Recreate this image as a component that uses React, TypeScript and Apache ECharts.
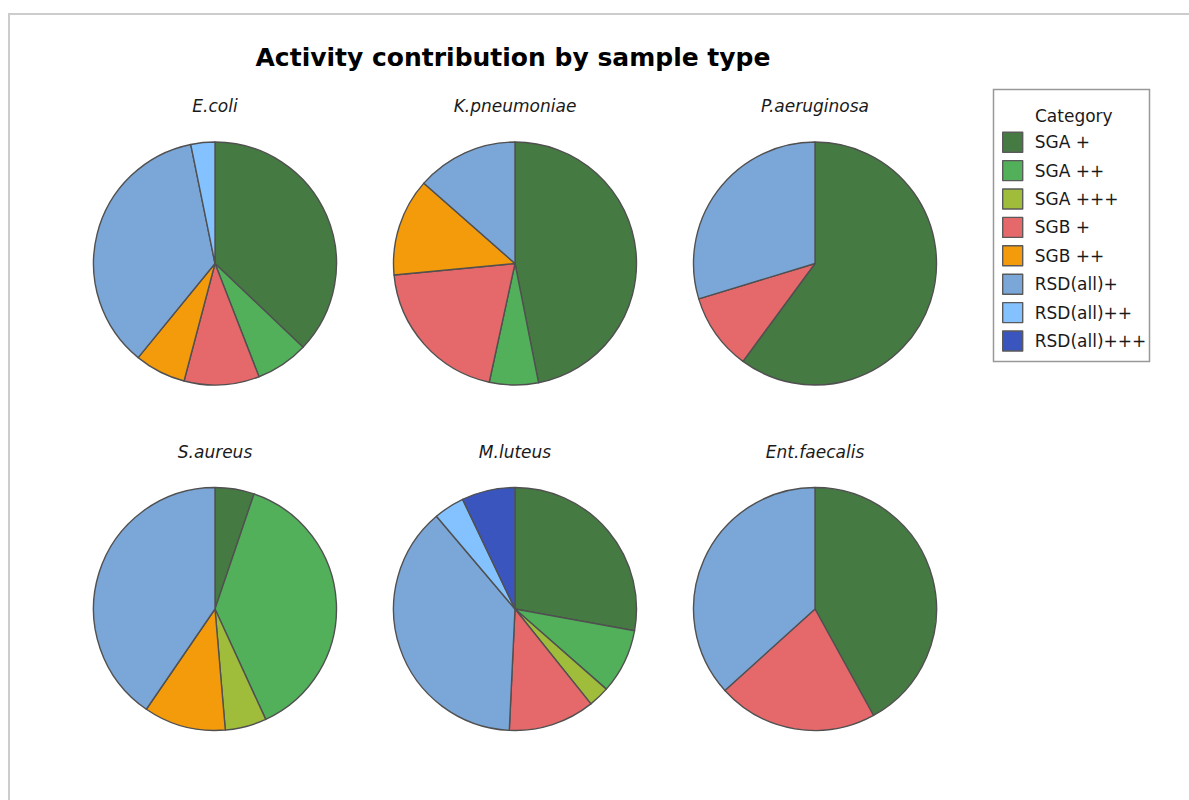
import React, { useEffect, useRef } from "react";
import * as echarts from "echarts";

const chartTitle = "Activity contribution by sample type";
const legendTitle = "Category";
const categories = ["SGA +", "SGA ++", "SGA +++", "SGB +", "SGB ++", "RSD(all)+", "RSD(all)++", "RSD(all)+++"];
const categoryColors = ["#457B43", "#52B05B", "#A0BC3B", "#E5686A", "#F39B0B", "#7BA6D8", "#84C2FF", "#3B55BF"];
const samples = ["E.coli", "K.pneumoniae", "P.aeruginosa", "S.aureus", "M.luteus", "Ent.faecalis"];

// values per category (order = categories), percent of activity
const eColi = [37.1, 7.0, 0, 10.0, 6.8, 35.9, 3.2, 0];
const kPneumoniae = [46.9, 6.5, 0, 20.1, 13.0, 13.5, 0, 0];
const pAeruginosa = [60.1, 0, 0, 10.2, 0, 29.7, 0, 0];
const sAureus = [5.2, 37.9, 5.5, 0, 10.9, 40.4, 0, 0];
const mLuteus = [27.9, 8.6, 2.8, 11.5, 0, 38.1, 4.1, 7.1];
const entFaecalis = [42.0, 0, 0, 21.3, 0, 36.7, 0, 0];

const sampleValues = [eColi, kPneumoniae, pAeruginosa, sAureus, mLuteus, entFaecalis];

const FONT = '"DejaVu Sans", "Liberation Sans", Arial, sans-serif';

export default function App() {
  const ref = useRef<HTMLDivElement>(null);

  useEffect(() => {
    if (!ref.current) return;
    const chart = echarts.init(ref.current, null, { renderer: "svg" });

    const colX = [215, 515, 815];
    const rowY = [263.5, 609];
    const titleY = [106, 452];
    const radius = 121.5;

    const series = samples.map((name, i) => {
      const cx = colX[i % 3];
      const cy = rowY[Math.floor(i / 3)];
      const values = sampleValues[i];
      return {
        type: "pie",
        name,
        center: [cx, cy],
        radius,
        startAngle: 90,
        clockwise: true,
        label: { show: false },
        labelLine: { show: false },
        emphasis: { disabled: true },
        itemStyle: { borderColor: "#505050", borderWidth: 1.4 },
        data: categories
          .map((c, k) => ({ name: c, value: values[k], itemStyle: { color: categoryColors[k] } }))
          .filter((d) => d.value > 0),
      };
    });

    const subTitles = samples.map((name, i) => ({
      type: "text",
      x: colX[i % 3],
      y: titleY[Math.floor(i / 3)],
      style: {
        text: name,
        fontFamily: FONT,
        fontSize: 17,
        fontStyle: "italic",
        fill: "#1a1a1a",
        align: "center",
        verticalAlign: "middle",
        textAlign: "center",
        textVerticalAlign: "middle",
      },
    }));

    chart.setOption({
      animation: false,
      backgroundColor: "#ffffff",
      tooltip: { show: false },
      legend: {
        orient: "vertical",
        left: 1002,
        top: 131.5,
        padding: 0,
        itemWidth: 20,
        itemHeight: 20,
        itemGap: 7,
        icon: "rect",
        selectedMode: false,
        data: categories,
        itemStyle: { borderColor: "#5a5a5a", borderWidth: 1.4 },
        textStyle: { fontFamily: FONT, fontSize: 17, color: "#1a1a1a", padding: [0, 0, 0, 7] },
      },
      graphic: [
        {
          type: "rect",
          shape: { x: 9, y: 14, width: 1300, height: 900 },
          style: { fill: "none", stroke: "#cccccc", lineWidth: 2 },
          silent: true,
        },
        {
          type: "rect",
          shape: { x: 993.5, y: 89.5, width: 156, height: 272 },
          style: { fill: "none", stroke: "#999999", lineWidth: 1.5 },
          silent: true,
        },
        {
          type: "text",
          x: 513,
          y: 57,
          style: {
            text: chartTitle,
            fontFamily: FONT,
            fontSize: 25,
            fontWeight: "bold",
            fill: "#000",
            align: "center",
            verticalAlign: "middle",
            textAlign: "center",
            textVerticalAlign: "middle",
          },
        },
        {
          type: "text",
          x: 1035,
          y: 116,
          style: {
            text: legendTitle,
            fontFamily: FONT,
            fontSize: 17,
            fill: "#1a1a1a",
            align: "left",
            verticalAlign: "middle",
            textAlign: "left",
            textVerticalAlign: "middle",
          },
        },
        ...subTitles,
      ],
      series,
    });

    return () => chart.dispose();
  }, []);

  return (
    <div
      ref={ref}
      style={{ position: "absolute", left: 0, top: 0, width: 1189, height: 800, overflow: "hidden" }}
    />
  );
}
